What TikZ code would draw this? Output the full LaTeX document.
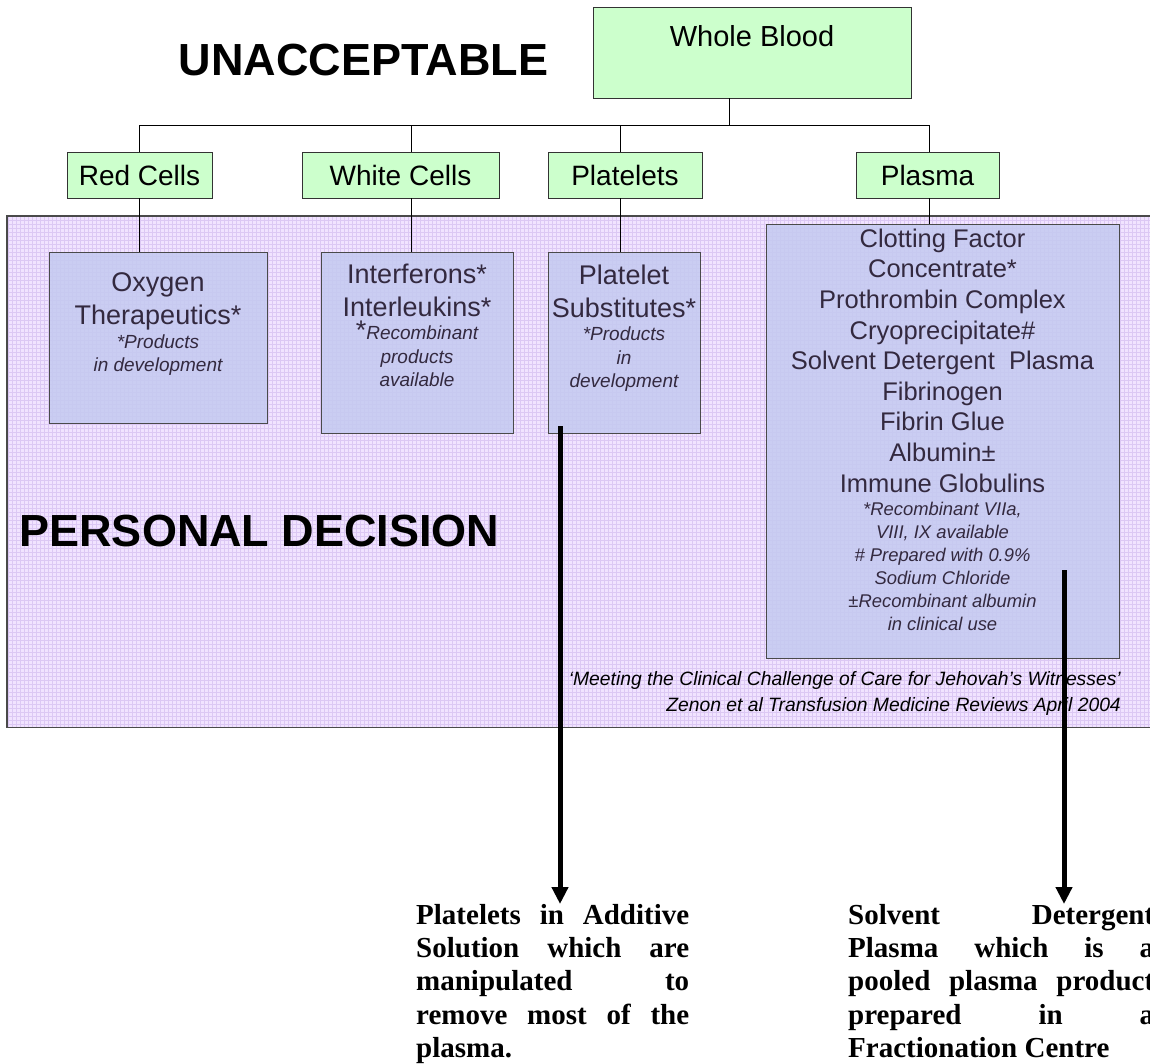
\documentclass[tikz,border=0pt]{standalone}
\usepackage{fontspec}
\setmainfont{Liberation Sans}
\newfontfamily\timesfam{Liberation Serif}
\usetikzlibrary{arrows.meta,positioning}
\setlength{\parindent}{0pt}

\definecolor{leaf}{HTML}{CCFFCC}
\definecolor{band}{HTML}{F1E3FF}
\definecolor{bandgrid}{HTML}{DCC8F4}
\definecolor{prodfill}{HTML}{C4CAF0}
\definecolor{prodtext}{HTML}{33293F}
\definecolor{rim}{HTML}{4A4A4A}

\newcommand{\plainspace}{\spaceskip=\fontdimen2\font\relax}
\newcommand{\prodsize}{\fontsize{27pt}{33pt}\selectfont\plainspace}
\newcommand{\notesize}{\fontsize{19pt}{23.5pt}\selectfont\itshape\plainspace}
\newcommand{\poolsize}{\fontsize{25.5pt}{30.6pt}\selectfont\plainspace}
\newcommand{\poolnote}{\fontsize{18.4pt}{23pt}\selectfont\itshape\plainspace}

\begin{document}
\begin{tikzpicture}[
  x=1pt, y=-1pt,
  leafbox/.style={draw=black!80, fill=leaf, line width=0.8pt, minimum height=46pt, inner sep=0pt, font=\fontsize{28pt}{32pt}\selectfont},
  prodbox/.style={draw=rim, fill=prodfill, fill opacity=0.85, line width=0.8pt, inner sep=0pt},
  prodlabel/.style={text=prodtext, align=center, inner sep=0pt},
  bigword/.style={font=\fontsize{45pt}{50pt}\selectfont\bfseries},
  refnote/.style={align=right, inner sep=0pt, font=\fontsize{19.3pt}{26pt}\selectfont\itshape},
  remark/.style={align=justify, inner sep=0pt, font=\fontsize{29pt}{33.3pt}\timesfam\bfseries},
  branch/.style={line width=0.7pt},
  pointer/.style={line width=5pt, -{Triangle[length=17pt,width=16pt]}}
]
\useasboundingbox (0,0) rectangle (1150,1063);

% personal decision band
\node[fill=band, minimum width=1153pt, minimum height=511pt, inner sep=0pt, anchor=north west] (band) at (7,216) {};
\draw[bandgrid, line width=0.35pt, step=4pt] (band.south west) grid (band.north east);
\draw[rim, line width=1.2pt] (band.north east) -- (band.north west) -- (band.south west) -- (band.south east);

% top of the tree
\node[leafbox, minimum width=318pt, minimum height=91pt] (whole) at (752,52.5) {};
\node[below=19pt of whole.north, inner sep=0pt, font=\fontsize{29pt}{32pt}\selectfont] (wholetxt) {Whole Blood};
\node[bigword] (unacc) at (363.5,60) {UNACCEPTABLE};

\node[leafbox, minimum width=145pt] (red) at (139.5,175) {Red Cells};
\node[leafbox, minimum width=197pt] (white) at (400.5,175) {White Cells};
\node[leafbox, minimum width=154pt] (plt) at (625,175) {Platelets};
\node[leafbox, minimum width=143pt] (plasma) at (927.5,175) {Plasma};

% products
\node[prodbox, minimum width=218pt, minimum height=171pt] (oxy) at (158,337.5) {};
\node[prodbox, minimum width=192pt, minimum height=181pt] (ifn) at (417,342.5) {};
\node[prodbox, minimum width=152pt, minimum height=181pt] (sub) at (624,342.5) {};
\node[prodbox, minimum width=353pt, minimum height=434pt] (pool) at (942.5,441) {};

\node[prodlabel, text width=218pt, below=21pt of oxy.north] (oxytxt)
  {\prodsize Oxygen\\Therapeutics*\par\notesize *Products\\in development\par};
\node[prodlabel, text width=192pt, below=12pt of ifn.north] (ifntxt)
  {\prodsize Interferons*\\Interleukins*\par\notesize{\fontsize{27pt}{23.5pt}\selectfont\upshape *}Recombinant\\products\\available\par};
\node[prodlabel, text width=152pt, below=13pt of sub.north] (subtxt)
  {\prodsize Platelet\\Substitutes*\par\notesize *Products\\in\\development\par};
\node[prodlabel, text width=353pt, below=5pt of pool.north] (pooltxt)
  {\poolsize Clotting Factor\\Concentrate*\\Prothrombin Complex\\Cryoprecipitate\#\\Solvent Detergent\ \ Plasma\\Fibrinogen\\Fibrin Glue\\Albumin±\\Immune Globulins\par
   \poolnote *Recombinant VIIa,\\VIII, IX available\\\# Prepared with 0.9\%\\Sodium Chloride\\±Recombinant albumin\\in clinical use\par};

\node[bigword] (personal) at (259.5,531) {PERSONAL DECISION};
\node[refnote, anchor=north east] (ref) at (1121,671)
  {‘Meeting the Clinical Challenge of Care for Jehovah’s Witnesses’\\Zenon et al Transfusion Medicine Reviews April 2004};

% tree connectors
\coordinate (bus) at (729,125);
\draw[branch] (bus) -- (bus |- whole.south);
\foreach \leaf/\prod/\dx in {red/oxy/0, white/ifn/10.5, plt/sub/-5, plasma/pool/1.5} {
  \draw[branch] (bus) -| ([xshift=\dx pt]\leaf.north);
  \draw[branch] ([xshift=\dx pt]\leaf.south) -- ([xshift=\dx pt]\leaf.south |- \prod.north);
}

% notes below the band
\node[remark, text width=273pt, anchor=north west] (addtxt) at (416,904)
  {Platelets in Additive\linebreak Solution which are\linebreak manipulated to\linebreak remove most of the\linebreak plasma.};
\node[remark, text width=306pt, anchor=north west] (sdtxt) at (848,904)
  {Solvent Detergent\linebreak Plasma which is a\linebreak pooled plasma product\linebreak prepared in a\linebreak Fractionation Centre};

\coordinate (a1) at (560,426);
\coordinate (a2) at (1064,570);
\draw[pointer] (a1) -- (a1 |- addtxt.north);
\draw[pointer] (a2) -- (a2 |- sdtxt.north);
\end{tikzpicture}
\end{document}
